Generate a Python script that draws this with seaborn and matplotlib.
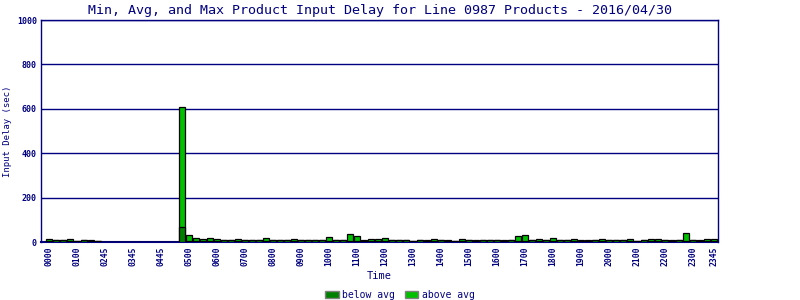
import matplotlib
matplotlib.use("Agg")
import matplotlib.pyplot as plt
import seaborn as sns
import pandas as pd
from matplotlib.patches import Patch

times = [
    "0000", "0015", "0030", "0045", "0100", "0115", "0130", "0145",
    "0245", "0300", "0315", "0330", "0345", "0400", "0415", "0430", "0445",
    "0450", "0455", "0458",
    "0500", "0515", "0530", "0545", "0600", "0615", "0630", "0645",
    "0700", "0715", "0730", "0745", "0800", "0815", "0830", "0845",
    "0900", "0915", "0930", "0945", "1000", "1015", "1030", "1045",
    "1100", "1115", "1130", "1145", "1200", "1215", "1230", "1245",
    "1300", "1315", "1330", "1345", "1400", "1415", "1430", "1445",
    "1500", "1515", "1530", "1545", "1600", "1615", "1630", "1645",
    "1700", "1715", "1730", "1745", "1800", "1815", "1830", "1845",
    "1900", "1915", "1930", "1945", "2000", "2015", "2030", "2045",
    "2100", "2115", "2130", "2145", "2200", "2215", "2230", "2245",
    "2300", "2315", "2330", "2345",
]

below_avg = [
    6, 9, 9, 6, 4, 9, 6, 4,
    0, 0, 0, 0, 0, 0, 0, 0, 0,
    0, 0, 68,
    6, 6, 6, 6, 6, 9, 9, 6,
    9, 9, 9, 6, 9, 9, 9, 6,
    9, 9, 9, 9, 6, 9, 9, 6,
    6, 6, 6, 6, 6, 9, 9, 9,
    4, 9, 6, 6, 9, 6, 4, 6,
    9, 6, 9, 9, 9, 6, 9, 6,
    6, 9, 6, 9, 6, 9, 9, 6,
    6, 6, 9, 6, 9, 9, 9, 6,
    4, 9, 6, 6, 9, 6, 9, 6,
    9, 6, 6, 6,
]

above_avg = [
    8, 0, 0, 8, 0, 0, 3, 0,
    0, 0, 0, 0, 0, 0, 0, 0, 0,
    0, 0, 539,
    26, 12, 8, 12, 8, 0, 0, 8,
    0, 0, 0, 12, 0, 0, 0, 8,
    0, 0, 0, 0, 17, 0, 0, 30,
    21, 5, 8, 8, 12, 0, 0, 0,
    0, 0, 5, 8, 0, 5, 0, 8,
    0, 5, 0, 0, 0, 5, 0, 21,
    26, 0, 8, 0, 12, 0, 0, 8,
    5, 5, 0, 8, 0, 0, 0, 8,
    0, 0, 8, 8, 0, 5, 0, 35,
    0, 5, 8, 8,
]

shown_ticks = [0, 4, 8, 12, 16, 20, 24, 28, 32, 36, 40, 44, 48, 52, 56, 60,
               64, 68, 72, 76, 80, 84, 88, 92, 95]

NAVY = "#000080"
BELOW_C = "#008000"
ABOVE_C = "#00C000"
FONT = "DejaVu Sans Mono"

sns.set_theme(style="white")
plt.rcParams["font.family"] = [FONT, "DejaVu Sans"]

df = pd.DataFrame({
    "time": times,
    "below": below_avg,
    "total": [b + a for b, a in zip(below_avg, above_avg)],
})

fig = plt.figure(figsize=(8, 3), dpi=100)
ax = fig.add_axes([41 / 800, 1 - 242 / 300, (718 - 41) / 800, (242 - 20) / 300])

sns.barplot(data=df, x="time", y="total", order=times, color=ABOVE_C,
            saturation=1, edgecolor="black", linewidth=0.9, width=0.84, ax=ax,
            errorbar=None, zorder=3)
sns.barplot(data=df, x="time", y="below", order=times, color=BELOW_C,
            saturation=1, edgecolor="black", linewidth=0.9, width=0.84, ax=ax,
            errorbar=None, zorder=3)

ax.set_xlim(-1.14, 95.6)
ax.set_ylim(0, 1000)
ax.set_yticks([0, 200, 400, 600, 800, 1000])
ax.set_yticklabels(["0", "200", "400", "600", "800", "1000"],
                   fontsize=6, color=NAVY, fontweight="bold")
ax.set_xticks(shown_ticks)
ax.set_xticklabels([times[i] for i in shown_ticks], rotation=90,
                   fontsize=5.8, color=NAVY, fontweight="bold")
ax.tick_params(axis="both", length=0, pad=3)

ax.yaxis.grid(True, color=NAVY, linewidth=1)
ax.xaxis.grid(False)
ax.set_axisbelow(True)
for s in ax.spines.values():
    s.set_color(NAVY)
    s.set_linewidth(1)
ax.spines["bottom"].set_linewidth(1.5)

ax.set_xlabel("Time", fontsize=7.5, color=NAVY, labelpad=4)
ax.set_ylabel("Input Delay (sec)", fontsize=6.5, color=NAVY, va="center")
ax.yaxis.set_label_coords(-0.049, 0.5)

fig.text(0.475, 0.965, "Min, Avg, and Max Product Input Delay for Line 0987 Products - 2016/04/30",
         ha="center", va="center", fontsize=9.6, color=NAVY)

handles = [Patch(facecolor=BELOW_C, edgecolor="#808080", linewidth=1, label="below avg"),
           Patch(facecolor=ABOVE_C, edgecolor="#808080", linewidth=1, label="above avg")]
fig.legend(handles=handles, loc="center", bbox_to_anchor=(0.5, 0.017), ncol=2,
           frameon=False, fontsize=7, handlelength=1.4, handleheight=0.8,
           handletextpad=0.35, columnspacing=1.0, labelcolor=NAVY,
           borderaxespad=0, borderpad=0)

fig.savefig("out.png", dpi=100)
